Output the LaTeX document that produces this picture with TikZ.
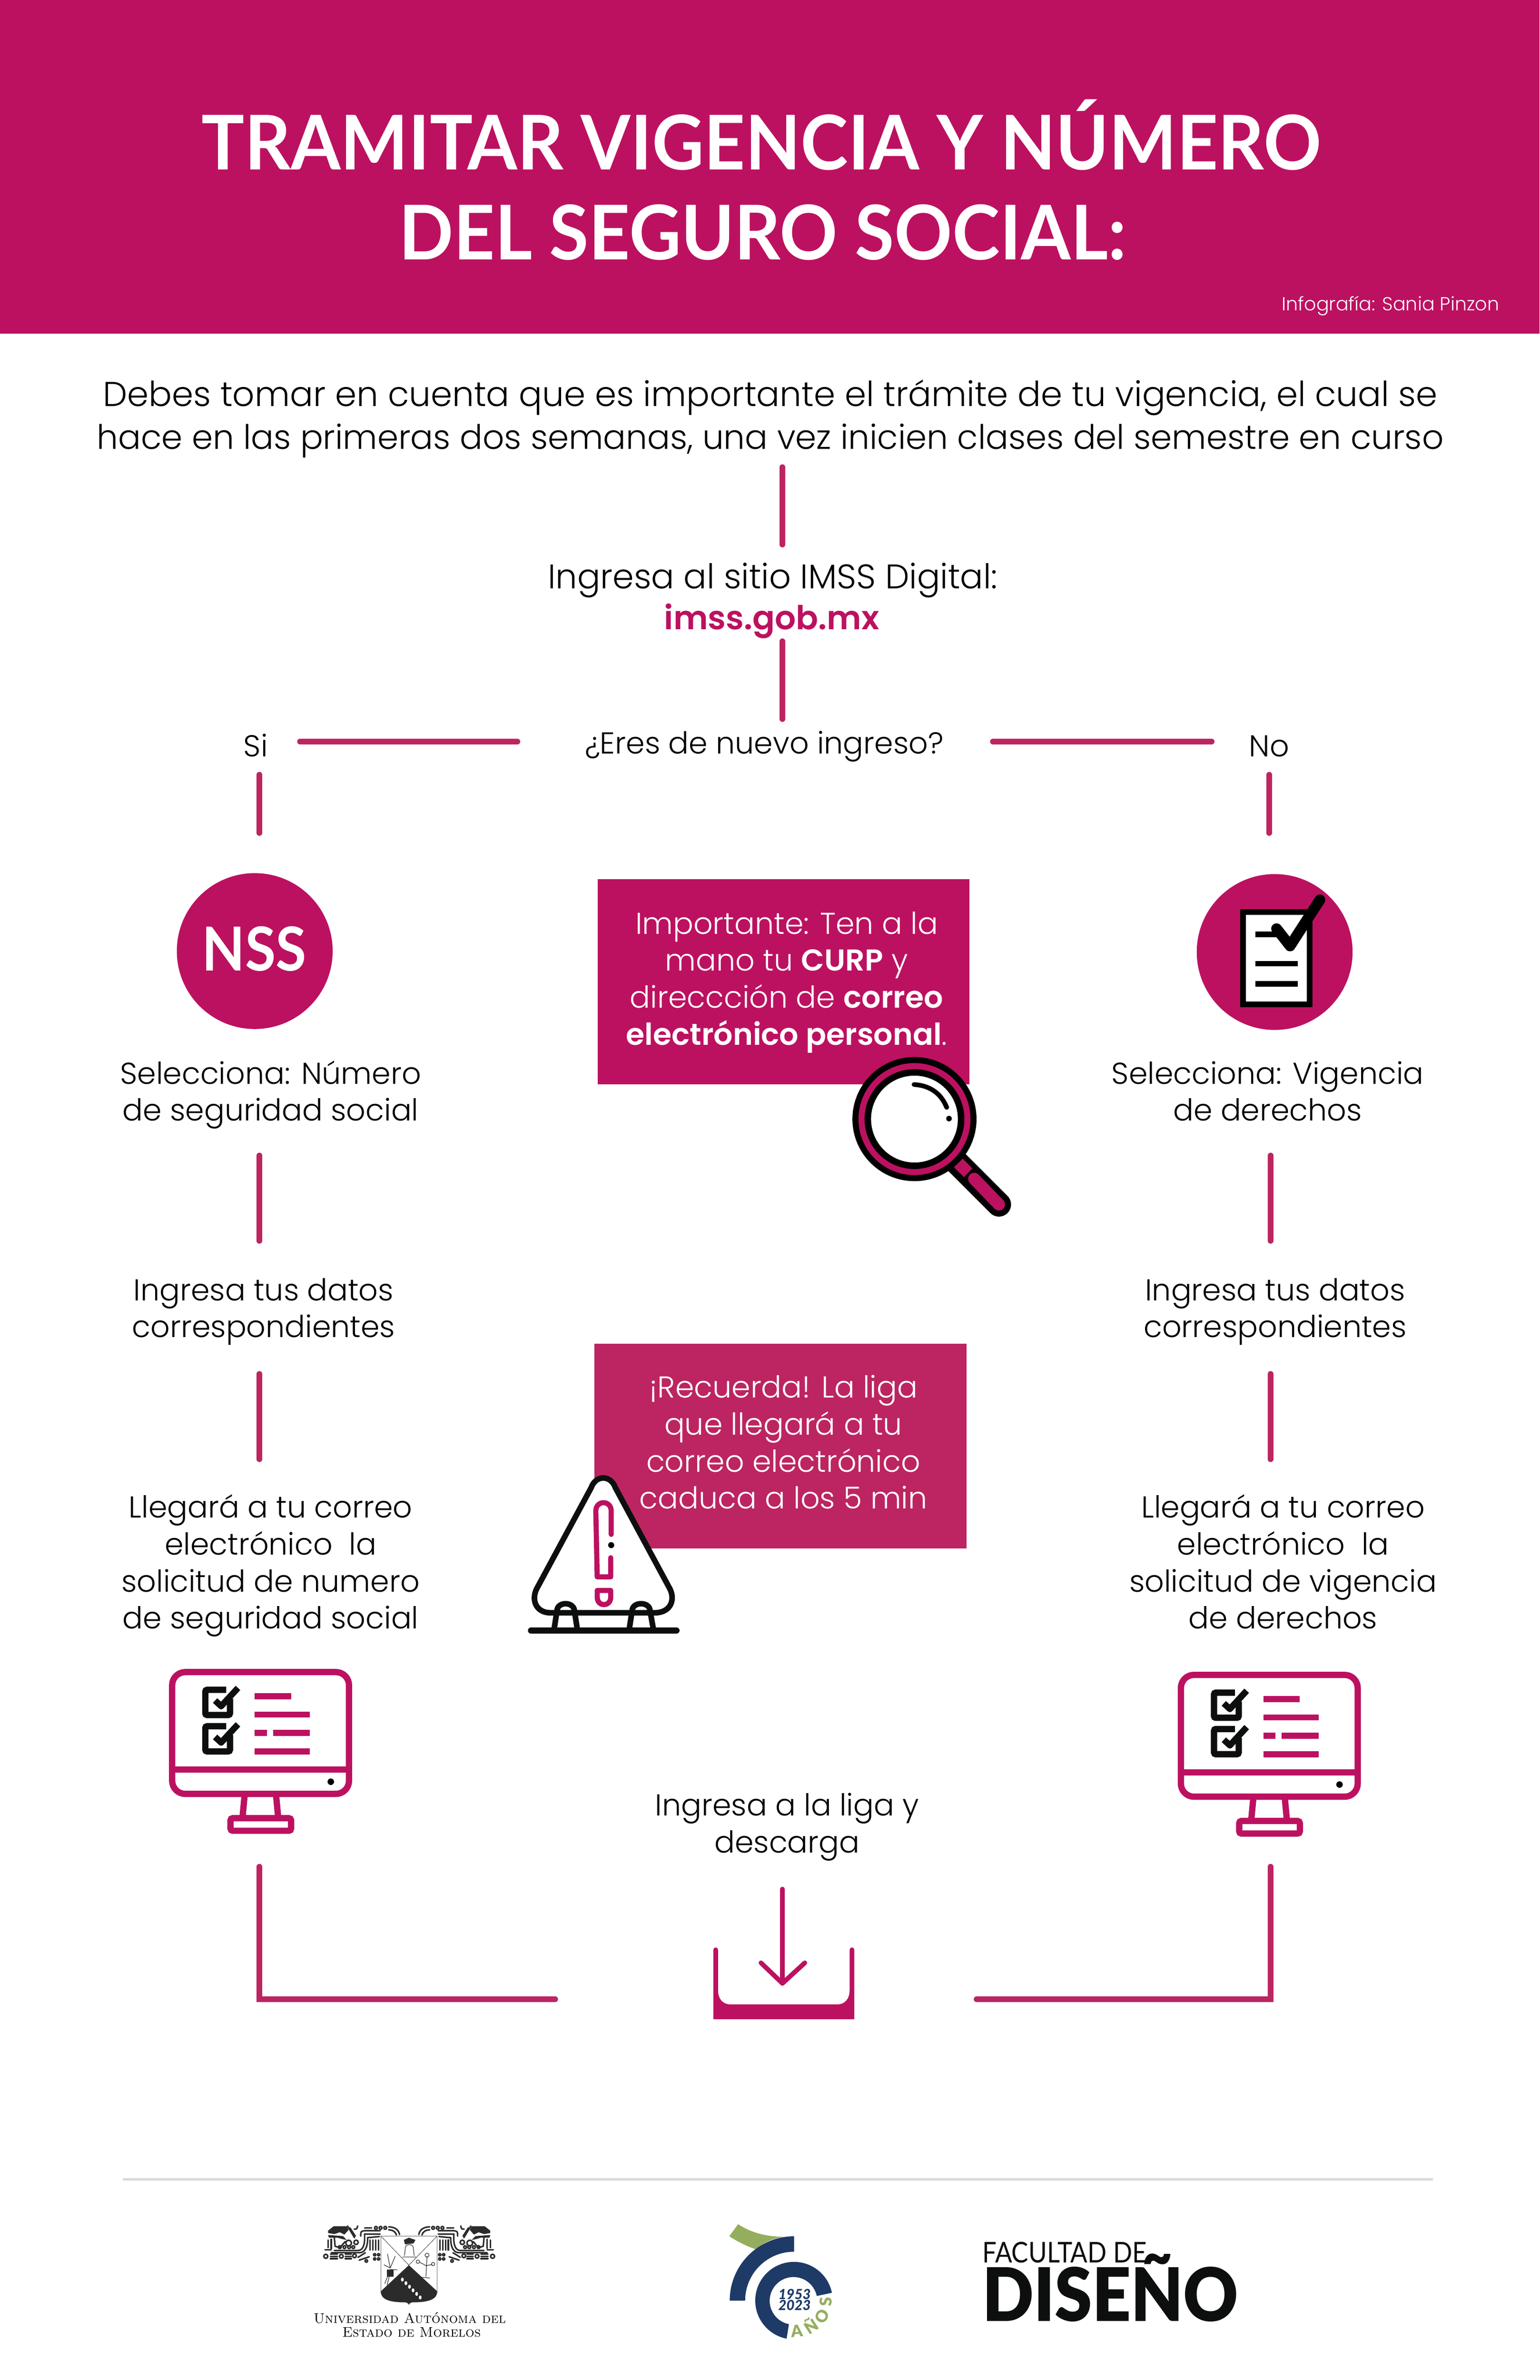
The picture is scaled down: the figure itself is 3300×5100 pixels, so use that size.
\documentclass[tikz,border=0pt]{standalone}
\usepackage{fontspec}
\setsansfont{Poppins}[UprightFont=* Light,BoldFont=* SemiBold]
\newfontfamily\headfont{Lato}
\newfontfamily\heavyfont{Lato Black}
\usetikzlibrary{calc, positioning}
\definecolor{imss}{RGB}{188,17,96}
\definecolor{imssline}{RGB}{188,37,97}
\definecolor{ink}{RGB}{13,15,14}
\definecolor{navy}{RGB}{30,58,102}
\definecolor{olive}{RGB}{149,174,94}
\definecolor{rulegray}{RGB}{217,217,220}
\definecolor{crestink}{RGB}{43,43,43}

\begin{document}
\begin{tikzpicture}[x=0.01cm, y=-0.01cm]
    \tikzset{
        copy/.style={font=\sffamily\fontsize{18.4}{22.5}\selectfont, align=center, anchor=base, inner sep=0pt},
        boxcopy/.style={copy, text=white},
        headline/.style={font=\headfont\bfseries\fontsize{46}{54}\selectfont, text=white, anchor=base, inner sep=0pt, xscale=0.95, transform shape},
        link/.style={draw=imssline, line width=0.12cm, line cap=round, shorten >=0.06cm, shorten <=0.06cm},
        bar/.style={draw=imss, line width=0.13cm},
        ring/.style={draw=imss, line width=0.135cm},
        tick/.style={draw=ink, line width=0.135cm},
        orn/.style={draw=crestink, line width=0.032cm, fill=none, line cap=round},
        fine/.style={draw=crestink, line width=0.012cm, fill=none, line cap=round},
        ornfill/.style={fill=crestink}
    }
    \useasboundingbox (0,0) rectangle (3300,5100);
    \fill[white] (0,0) rectangle (3300,5100);

    % header
    \fill[imss] (0,0) rectangle (3300,715);
    \node[headline] (title1) at (1632,364) {TRAMITAR VIGENCIA Y NÚMERO};
    \node[headline] (title2) at (1635,556) {DEL SEGURO SOCIAL:};
    \node[copy, font=\sffamily\fontsize{11.5}{13}\selectfont, text=white, anchor=base east] (credit) at (3214,666) {Infografía: Sania Pinzon};

    % top of the flow
    \node[copy, font=\sffamily\fontsize{21}{25.9}\selectfont] (intro) at (1651,962) {Debes tomar en cuenta que es importante el trámite de tu vigencia, el cual se\\\fontsize{20.55}{25.9}\selectfont hace en las primeras dos semanas, una vez inicien clases del semestre en curso};
    \node[copy, font=\sffamily\fontsize{20.8}{25}\selectfont] (sitio) at (1656,1261) {Ingresa al sitio IMSS Digital:};
    \node[copy, text=imss, font=\sffamily\bfseries\fontsize{20.1}{25}\selectfont] (liga) at (1654,1349) {imss.gob.mx};
    \node[copy] (nuevo) at (1638,1615) {¿Eres de nuevo ingreso?};
    \node[copy] (si) at (548,1621) {Si};
    \node[copy] (no) at (2720,1621) {No};

    \coordinate (t1) at (1677,995);   \coordinate (t2) at (1677,1173);
    \coordinate (t3) at (1677,1368);  \coordinate (t4) at (1677,1547);
    \coordinate (h1) at (637,1589);   \coordinate (h2) at (1115,1589);
    \coordinate (h3) at (2122,1589);  \coordinate (h4) at (2603,1589);
    \draw[link] (t1) -- (t2);
    \draw[link] (t3) -- (t4);
    \draw[link] (h1) -- (h2);
    \draw[link] (h3) -- (h4);

    % left column
    \coordinate (l1) at (556,1654);  \coordinate (l2) at (556,1791);
    \coordinate (l3) at (556,2470);  \coordinate (l4) at (556,2665);
    \coordinate (l5) at (556,2938);  \coordinate (l6) at (556,3133);
    \coordinate (l7) at (556,3994);  \coordinate (l8) at (556,4284);
    \coordinate (l9) at (1196,4284);
    \draw[link] (l1) -- (l2);
    \draw[link] (l3) -- (l4);
    \draw[link] (l5) -- (l6);
    \draw[link] (l7) -- (l8) -- (l9);

    \fill[imss] (546,2038) circle[radius=167];
    \node[font=\headfont\bfseries\fontsize{37}{40}\selectfont, text=white, anchor=base, inner sep=0pt, xscale=0.92, transform shape] (nss) at (545,2080) {NSS};
    \node[copy] (selnum) at (580,2402) {Selecciona: Número\\de seguridad social};
    \node[copy] (datosl) at (565,2866) {Ingresa tus datos\\correspondientes};
    \node[copy] (correol) at (580,3490) {Llegará a tu correo\\electrónico\ \ la\\solicitud de numero\\de seguridad social};

    % right column
    \coordinate (r1) at (2720,1654);  \coordinate (r2) at (2720,1791);
    \coordinate (r3) at (2723,2470);  \coordinate (r4) at (2723,2665);
    \coordinate (r5) at (2723,2938);  \coordinate (r6) at (2723,3133);
    \coordinate (r7) at (2723,3994);  \coordinate (r8) at (2723,4284);
    \coordinate (r9) at (2087,4284);
    \draw[link] (r1) -- (r2);
    \draw[link] (r3) -- (r4);
    \draw[link] (r5) -- (r6);
    \draw[link] (r7) -- (r8) -- (r9);

    \fill[imss] (2732,2040) circle[radius=167];
    \fill[white] (2664,1954) rectangle (2807,2152);
    \draw[draw=black, line width=0.12cm] (2664,1954) rectangle (2807,2152);
    \draw[draw=black, line width=0.12cm] (2691,2002) -- (2745,2002);
    \draw[draw=black, line width=0.12cm] (2691,2065) -- (2781,2065);
    \draw[draw=black, line width=0.12cm] (2691,2108) -- (2781,2108);
    \draw[draw=black, line width=0.23cm, line cap=round, line join=round] (2736,1990) -- (2765,2027) -- (2829,1928);

    \node[copy] (selvig) at (2717,2402) {Selecciona: Vigencia\\de derechos};
    \node[copy] (datosr) at (2733,2866) {Ingresa tus datos\\correspondientes};
    \node[copy] (correor) at (2750,3490) {Llegará a tu correo\\electrónico\ \ la\\solicitud de vigencia\\de derechos};

    % the two monitors
    \foreach \mx/\my in {0/0, 2162/6} {
        \begin{scope}[shift={(\mx,\my)}]
            \draw[ring, rounded corners=0.28cm] (369,3583) rectangle (748,3844);
            \draw[ring] (369,3792) -- (748,3792);
            \draw[ring] (524,3850) -- (520,3892);
            \draw[ring] (592,3850) -- (596,3892);
            \draw[ring, rounded corners=0.05cm] (494,3896) rectangle (624,3923);
            \fill[black] (709,3818) circle[radius=7];
            \foreach \by in {0,78} {
                \draw[tick, rounded corners=0.04cm] (493,3640+\by) -- (493,3675+\by) -- (440,3675+\by) -- (440,3621+\by) -- (485,3621+\by);
                \draw[tick, line join=round] (461,3644+\by) -- (474,3656+\by) -- (510,3617+\by);
            }
            \draw[bar] (546,3635) -- (624,3635);
            \draw[bar] (546,3674) -- (664,3674);
            \draw[bar] (546,3713) -- (572,3713);
            \draw[bar] (585,3713) -- (664,3713);
            \draw[bar] (546,3753) -- (664,3753);
        \end{scope}
    }

    % importante box and magnifier
    \fill[imss] (1281,1884) rectangle (2078,2324);
    \node[boxcopy] (importante) at (1686,2239) {Importante: Ten a la\\mano tu \textbf{CURP} y\\direccción de \textbf{correo}\\\textbf{electrónico personal}.};
    \draw[black, line width=0.52cm, line cap=round] (2050,2490) -- (2141,2581);
    \draw[imss, line width=0.26cm] (2054,2492) -- (2075,2513);
    \draw[imss, line width=0.26cm, line cap=round] (2088,2526) -- (2141,2581);
    \fill[black] (1960,2398) circle[radius=133];
    \fill[imss] (1960,2398) circle[radius=120];
    \fill[black] (1960,2398) circle[radius=107];
    \fill[white] (1960,2398) circle[radius=93];
    \draw[black, line width=0.1cm, line cap=round] (1959,2324) .. controls (1995,2326) and (2018,2345) .. (2029,2373);
    \fill[black] (2034,2397) circle[radius=6];

    % recuerda box and warning sign
    \fill[imssline] (1274,2879) rectangle (2072,3318);
    \node[boxcopy] (recuerda) at (1679,3233) {¡Recuerda! La liga\\que llegará a tu\\correo electrónico\\caduca a los 5 min};
    \filldraw[fill=white, draw=ink, line width=0.12cm, line join=round] (1180,3456) .. controls (1150,3456) and (1138,3430) .. (1150,3405) -- (1267,3188) .. controls (1277,3160) and (1309,3160) .. (1319,3188) -- (1436,3405) .. controls (1448,3430) and (1436,3456) .. (1403,3456) -- cycle;
    \draw[draw=ink, line width=0.12cm, line join=round] (1188,3489) -- (1194,3450) .. controls (1196,3432) and (1228,3432) .. (1231,3450) -- (1237,3489);
    \draw[draw=ink, line width=0.12cm, line join=round] (1349,3489) -- (1355,3450) .. controls (1357,3432) and (1391,3432) .. (1393,3450) -- (1400,3489);
    \draw[draw=ink, line width=0.13cm, line cap=round] (1138,3494) -- (1450,3494);
    \draw[imss, line width=0.11cm, line cap=round, line join=round] (1310,3288) -- (1310,3238) .. controls (1310,3214) and (1277,3214) .. (1277,3238) -- (1280,3379) -- (1309,3379) -- (1309,3338);
    \draw[imss, line width=0.11cm, line join=round] (1280,3408) -- (1309,3408) -- (1309,3422) .. controls (1309,3444) and (1280,3444) .. (1280,3422) -- cycle;
    \fill[black] (1310,3311) circle[radius=6.5];

    % download
    \node[copy] (descarga) at (1687,3970) {Ingresa a la liga y\\descarga};
    \coordinate (d1) at (1677,4048);  \coordinate (d2) at (1677,4250);
    \coordinate (d3) at (1631,4206);  \coordinate (d4) at (1725,4206);
    \draw[imss, line width=0.1cm, line cap=round, line join=round] (d1) -- (d2);
    \draw[imss, line width=0.1cm, line cap=round, line join=round] (d3) -- (d2) -- (d4);
    \fill[imss] (1529,4178) -- (1529,4327) -- (1831,4327) -- (1831,4178) arc[start angle=0, end angle=-180, radius=5] -- (1821,4265) .. controls (1821,4282) and (1812,4295) .. (1795,4295) -- (1565,4295) .. controls (1548,4295) and (1539,4282) .. (1539,4265) -- (1539,4178) arc[start angle=0, end angle=-180, radius=5] -- cycle;

    % footer
    \draw[rulegray, line width=0.06cm] (263,4670) -- (3071,4670);

    % crest, drawn in the pixels of its own crop
    \begin{scope}[shift={(660,4750)}, x=0.003333cm, y=-0.003333cm]
        \draw[draw=gray, line width=0.012cm] (470,125) -- (832,125) -- (832,480) .. controls (832,530) and (780,550) .. (680,550) .. controls (665,550) and (655,555) .. (650,565) .. controls (645,555) and (635,550) .. (620,550) .. controls (520,550) and (470,530) .. (470,480) -- cycle;
        \draw[draw=crestink, line width=0.008cm] (470,125) -- (650,312) -- (832,125);
        \fill[crestink] (650,312) -- (832,480) .. controls (832,530) and (780,550) .. (680,550) .. controls (665,550) and (655,555) .. (650,565) .. controls (645,555) and (635,550) .. (620,550) .. controls (520,550) and (470,530) .. (470,480) -- cycle;
        \foreach \i in {0,...,5} {
            \fill[white] (608+23*\i,405+23*\i) ellipse[x radius=9, y radius=13];
        }
        % bell
        \draw[fine] (622,250) -- (628,195) .. controls (635,175) and (670,175) .. (678,195) -- (684,250);
        \draw[fine] (610,258) -- (696,258);
        \fill[crestink] (618,150) -- (650,135) -- (692,150) -- (680,172) -- (625,178) -- cycle;
        % tree
        \draw[fine] (767,255) -- (760,385);
        \draw[fine] (760,315) -- (718,292);
        \draw[fine] (760,315) -- (800,308);
        \draw[fine] (735,390) -- (785,395);
        \draw[fine] (767,248) circle[radius=13];
        \draw[fine] (708,290) circle[radius=11];
        \draw[fine] (806,305) circle[radius=11];
        % plant
        \draw[fine] (530,330) -- (512,240);
        \draw[fine] (530,330) -- (562,255);
        \draw[fine] (530,330) -- (490,310);
        \draw[fine] (530,340) -- (575,342);
        \draw[fine] (515,380) -- (495,430);
        \draw[fine] (525,380) -- (510,440);
        \fill[crestink] (510,340) rectangle (550,385);
    \end{scope}
    \foreach \ox/\sx in {660/0.003333, 1094/-0.003333} {
        \begin{scope}[shift={(\ox,4750)}, x=\sx cm, y=-0.003333cm]
            \fill[ornfill] (130,90) -- (165,62) -- (250,62) -- (262,85) -- (235,115) -- (205,100) -- (170,112) -- (130,105) -- cycle;
            \fill[ornfill] (130,118) -- (225,125) -- (250,150) -- (225,145) -- (190,135) -- (135,135) -- cycle;
            \draw[orn] (255,60) -- (300,135);
            \draw[orn] (270,72) -- (305,125);
            \draw[orn] (298,80) .. controls (315,80) .. (320,60);
            \draw[orn] (170,135) -- (175,190) -- (205,200) -- (240,160);
            \draw[orn] (262,170) circle[radius=18];
            \draw[orn] (310,165) circle[radius=14];
            \draw[orn] (130,150) -- (130,200);
            \draw[orn] (150,145) -- (150,205);
            \draw[orn] (110,212) -- (150,212);
            \draw[orn] (170,218) -- (320,218) .. controls (350,218) and (365,190) .. (365,140) -- (365,112) -- (465,112);
            \draw[orn] (150,232) -- (330,232) .. controls (365,232) and (385,200) .. (385,135) -- (460,128);
            \foreach \gx in {205,235,265,292} {
                \draw[orn] (\gx,196) circle[radius=9];
            }
            \draw[orn] (340,125) .. controls (340,95) .. (365,90) -- (465,90);
            \draw[orn] (365,72) -- (410,72);
            \foreach \gx in {438,468,498} {
                \draw[orn] (\gx,72) circle[radius=9];
            }
            \draw[orn] (520,65) .. controls (570,68) and (585,90) .. (590,115);
            \draw[orn] (520,85) .. controls (550,85) and (565,100) .. (570,118);
            \foreach \gx in {400,418,436,454} {
                \draw[orn] (\gx,150) -- (\gx,215);
            }
            \draw[orn] (115,255) circle[radius=13];
            \draw[orn] (215,255) circle[radius=12];
            \draw[orn] (300,252) circle[radius=12];
            \foreach \gy in {240,255,270} {
                \draw[orn] (145,\gy) -- (190,\gy);
                \draw[orn] (240,\gy) -- (280,\gy);
            }
            \draw[orn] (322,262) -- (370,232);
            \draw[orn] (330,280) -- (395,258);
            \draw[orn] (376,285) circle[radius=8];
            \draw[orn] (430,245) circle[radius=7];
            \draw[orn] (455,245) circle[radius=7];
            \draw[orn] (430,272) circle[radius=7];
            \draw[orn] (455,272) circle[radius=7];
        \end{scope}
    }
    \node[font=\rmfamily\scshape\fontsize{8.5}{9}\selectfont, text=black, anchor=base, inner sep=0pt] (uaem1) at (878,4978) {Universidad Autónoma del};
    \node[font=\rmfamily\scshape\fontsize{8.5}{9}\selectfont, text=black, anchor=base, inner sep=0pt] (uaem2) at (882,5008) {Estado de Morelos};

    % 70 years logo
    \fill[olive] (1582,4766) .. controls (1610,4785) and (1645,4793) .. (1680,4793) .. controls (1655,4797) and (1635,4806) .. (1620,4820) .. controls (1600,4813) and (1582,4804) .. (1563,4792) -- cycle;
    \fill[navy] (1702,4792) arc[start angle=-90, end angle=-180, radius=138] -- (1597,4930) arc[start angle=-180, end angle=-90, radius=105] -- cycle;
    \fill[navy] (1783,4913) arc[start angle=-11.7, end angle=-259, radius=83] -- ++(5,-31) arc[start angle=-259, end angle=-11.7, radius=51] -- cycle;
    \node[font=\heavyfont\itshape\fontsize{8.5}{9}\selectfont, text=navy, anchor=base, inner sep=0pt] (anio1) at (1703,4927) {1953};
    \node[font=\heavyfont\itshape\fontsize{8.5}{9}\selectfont, text=navy, anchor=base, inner sep=0pt] (anio2) at (1703,4950) {2023};
    \foreach \lt/\lx/\ly/\ang [count=\i] in {A/1708/4995/5, Ñ/1737/4983/33, O/1762/4963/61, S/1770/4932/88} {
        \node[font=\heavyfont\fontsize{10}{11}\selectfont, text=olive, inner sep=0pt, rotate=\ang] (anos\i) at (\lx,\ly) {\lt};
    }

    % faculty logo
    \node[font=\headfont\fontsize{17.4}{19}\selectfont, text=ink, anchor=base west, inner sep=0pt, xscale=0.88, transform shape] (facultad) at (2105,4848) {FACULTAD DE};
    \node[font=\heavyfont\fontsize{45}{48}\selectfont, text=ink, anchor=base west, inner sep=0pt, xscale=0.915, transform shape] (diseno) at (2105,4974) {DISEÑO};
\end{tikzpicture}
\end{document}
